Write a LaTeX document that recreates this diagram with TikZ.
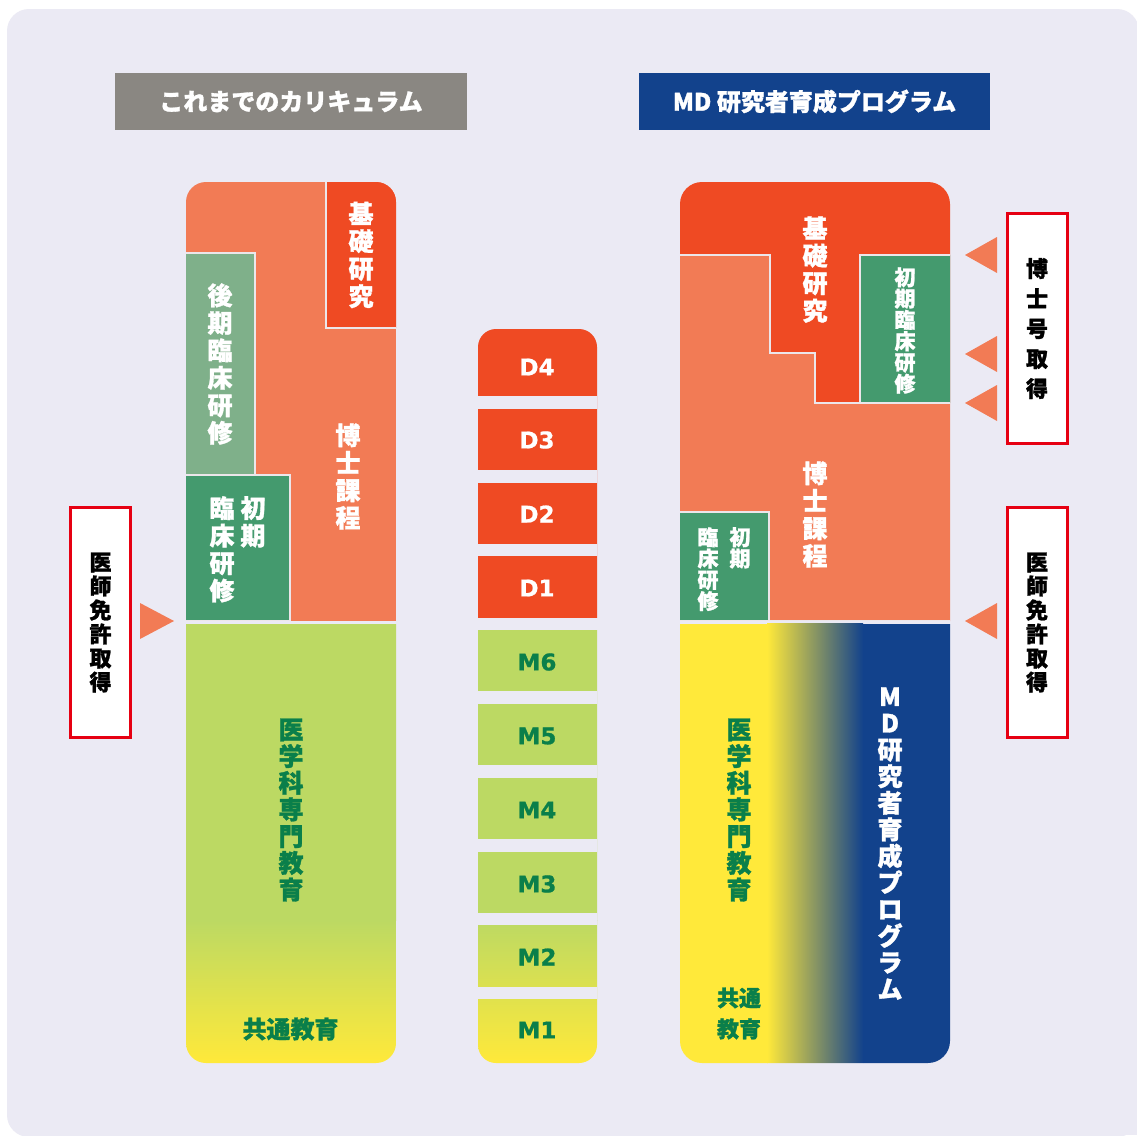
\documentclass[tikz,border=0pt]{standalone}
\usepackage{fontspec}
\newfontfamily\jp[BoldFeatures={FakeBold=1.2}]{Noto Sans CJK JP}
\newfontfamily\dv[BoldFeatures={FakeBold=0.8}]{DejaVu Sans}
\definecolor{bgc}{HTML}{EBEAF4}
\definecolor{salc}{HTML}{F27B55}
\definecolor{redc}{HTML}{EF4A23}
\definecolor{lgreenc}{HTML}{7FB08A}
\definecolor{greenc}{HTML}{449A6E}
\definecolor{limec}{HTML}{BCD963}
\definecolor{yelc}{HTML}{FFE93A}
\definecolor{dgreenc}{HTML}{0A7F4A}
\definecolor{bluec}{HTML}{12428C}
\definecolor{grayhc}{HTML}{8A8782}
\definecolor{grayc}{HTML}{8C8282}
\definecolor{boxred}{HTML}{E60012}
\definecolor{sepc}{HTML}{ECE6EA}
\tikzset{
  vt/.style={align=center, inner sep=0pt, text=white, font=\jp\bfseries\fontsize{25}{27.5}\selectfont},
  vts/.style={align=center, inner sep=0pt, text=white, font=\jp\bfseries\fontsize{21}{21.3}\selectfont},
  vtg/.style={align=center, inner sep=0pt, text=dgreenc, font=\jp\bfseries\fontsize{25}{26.7}\selectfont},
  hdr/.style={inner sep=0pt, text=white, font=\jp\bfseries\fontsize{24}{24}\selectfont, minimum height=57pt, minimum width=352pt},
  yearlbl/.style={inner sep=0pt, font=\dv\bfseries\fontsize{23}{23}\selectfont},
  rbox/.style={draw=boxred, line width=3pt, fill=white, minimum width=60pt, minimum height=230pt, inner sep=0pt, align=center, text=black, font=\jp\bfseries\fontsize{22}{24}\selectfont},
  sepline/.style={draw=sepc, line width=1.5pt},
  tri/.style={fill=salc}
}
\begin{document}
\begin{tikzpicture}[x=1pt,y=-1pt]
\useasboundingbox (0,0) rectangle (1137,1135);
\fill[white] (0,0) rectangle (1137,1135);
\fill[bgc, rounded corners=22pt] (7,9) rectangle (1139,1137);
\fill[bgc] (1080,1080) rectangle (1137,1135);

% headers
\node[hdr, fill=grayhc] (h1) at (291,101.5) {これまでのカリキュラム};
\node[hdr, fill=bluec, minimum width=351pt] (h2) at (814.5,101.5) {MD 研究者育成プログラム};

% left column
\begin{scope}
\clip[rounded corners=20pt] (186,182) rectangle (396,1063);
\fill[salc] (186,182) rectangle (396,621);
\path[fill=redc, sepline] (326,170) rectangle (410,328);
\path[fill=lgreenc, sepline] (170,253) rectangle (255,475);
\path[fill=greenc, sepline] (170,475) rectangle (290,621);
\fill[bgc] (170,621) rectangle (410,623.5);
\fill[limec] (170,623.5) rectangle (410,920.5);
\shade[top color=limec, bottom color=yelc] (170,920) rectangle (410,1063);
\end{scope}
\node[vt] (l1) at (361,255) {基\\礎\\研\\究};
\node[vt] (l2) at (220,364) {後\\期\\臨\\床\\研\\修};
\node[vt, anchor=north] (l3) at (253,496) {初\\期};
\node[vt, anchor=north] (l4) at (222,496) {臨\\床\\研\\修};
\node[vt] (l5) at (348,476.5) {博\\士\\課\\程};
\node[vtg] (l6) at (291,810) {医\\学\\科\\専\\門\\教\\育};
\node[vtg, font=\jp\bfseries\fontsize{24}{24}\selectfont] (l7) at (290.5,1029) {共通教育};

% middle column
\begin{scope}
\clip[rounded corners=18pt] (478,329) rectangle (597,1063);
\fill[redc] (470,320) rectangle (605,618);
\fill[limec] (470,630) rectangle (605,920.5);
\shade[top color=limec, bottom color=yelc] (470,920) rectangle (605,1063);
\foreach \a/\b in {396/409, 470/483, 544/556, 618/630, 691/704, 765/778, 839/852, 913/925, 987/999}
  \fill[bgc] (470,\a) rectangle (605,\b);
\end{scope}
\node[yearlbl, text=white] (d4) at (537,367) {D4};
\node[yearlbl, text=white] (d3) at (537,440) {D3};
\node[yearlbl, text=white] (d2) at (537,514) {D2};
\node[yearlbl, text=white] (d1) at (537,588) {D1};
\node[yearlbl, text=dgreenc] (m6) at (537,662) {M6};
\node[yearlbl, text=dgreenc] (m5) at (537,736) {M5};
\node[yearlbl, text=dgreenc] (m4) at (537,810) {M4};
\node[yearlbl, text=dgreenc] (m3) at (537,884) {M3};
\node[yearlbl, text=dgreenc] (m2) at (537,957) {M2};
\node[yearlbl, text=dgreenc] (m1) at (537,1030) {M1};

% right column
\begin{scope}
\clip[rounded corners=22pt] (680,182) rectangle (950,1063);
\fill[redc] (670,170) rectangle (960,403);
\path[fill=salc, sepline] (670,255) -- (770,255) -- (770,353) -- (815,353) -- (815,403) -- (960,403) -- (960,621) -- (670,621) -- cycle;
\path[fill=greenc, sepline] (860,255) rectangle (960,403);
\path[fill=greenc, sepline] (670,512) rectangle (769,621);
\fill[bgc] (670,621) rectangle (960,623.5);
\fill[yelc] (670,623.5) rectangle (767.5,1070);
\shade[left color=yelc, middle color=grayc, right color=bluec] (767,623.5) rectangle (863,1070);
\fill[bluec] (862.5,623.5) rectangle (960,1070);
\end{scope}
\node[vt] (r1) at (815,269.5) {基\\礎\\研\\究};
\node[vts] (r2) at (905,330.5) {初\\期\\臨\\床\\研\\修};
\node[vt] (r3) at (815,514.5) {博\\士\\課\\程};
\node[vts, anchor=north] (r4) at (740,527) {初\\期};
\node[vts, anchor=north] (r5) at (708,527) {臨\\床\\研\\修};
\node[vtg] (r6) at (739,810) {医\\学\\科\\専\\門\\教\\育};
\node[vtg, font=\jp\bfseries\fontsize{22}{31}\selectfont] (r7) at (739,1013.5) {共通\\教育};
\node[vt, font=\jp\bfseries\fontsize{25}{26.6}\selectfont] (r8) at (890,843.5) {M\\D\\研\\究\\者\\育\\成\\プ\\ロ\\グ\\ラ\\ム};

% label boxes
\node[rbox] (b1) at (100.5,622.5) {医\\師\\免\\許\\取\\得};
\node[rbox] (b2) at (1037,622.5) {医\\師\\免\\許\\取\\得};
\node[rbox, font=\jp\bfseries\fontsize{22}{30}\selectfont] (b3) at (1037,328.5) {博\\士\\号\\取\\得};

% triangles
\fill[tri] (174,621) -- (140,603) -- (140,639) -- cycle;
\fill[tri] (965,255) -- (997,237) -- (997,273) -- cycle;
\fill[tri] (965,354) -- (997,336) -- (997,372) -- cycle;
\fill[tri] (965,403) -- (997,385) -- (997,421) -- cycle;
\fill[tri] (965,621) -- (997,603) -- (997,639) -- cycle;
\end{tikzpicture}
\end{document}
